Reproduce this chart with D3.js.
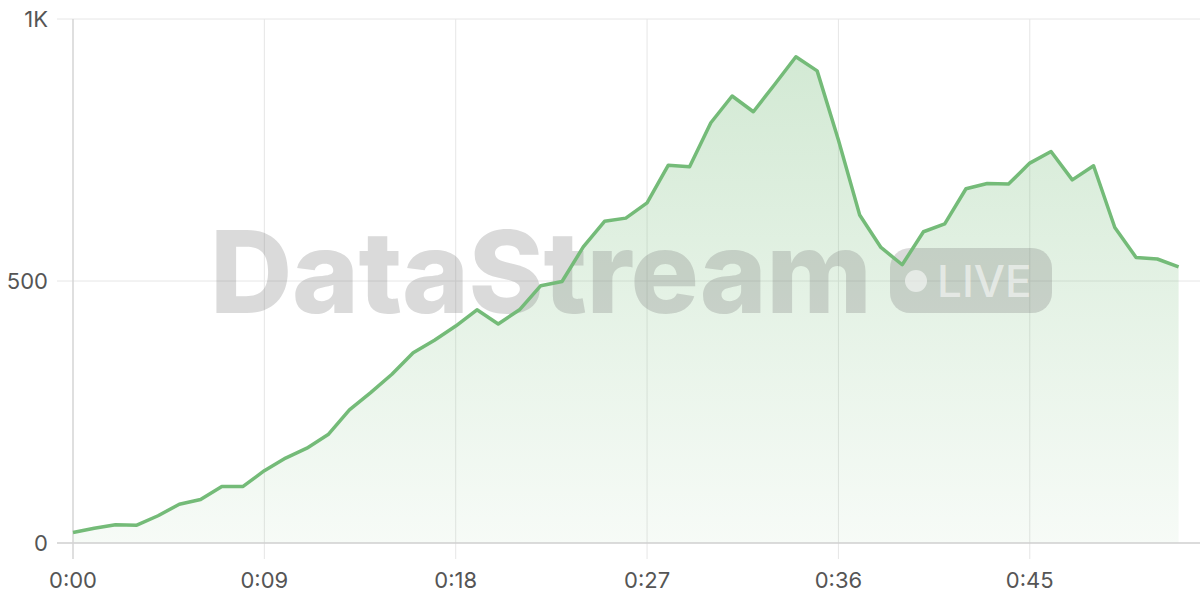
<!DOCTYPE html>
<html>
<head>
<meta charset="utf-8">
<script src="https://cdn.jsdelivr.net/npm/d3@7"></script>
<style>
  html, body { margin: 0; padding: 0; background: #fff; }
  svg { display: block; }
  text { font-family: Inter, "Noto Sans", sans-serif; }
</style>
</head>
<body>
<svg id="chart" width="1200" height="600"></svg>
<script>
// minutes since start
const minutes = d3.range(0, 53);
const viewers = [20, 28, 35, 34, 52, 74, 83, 108, 108, 138, 162, 181, 207, 254, 287, 322, 363, 387, 414, 445,
                 418, 445, 491, 499, 565, 614, 620, 649, 721, 718, 802, 853, 823, 875, 928, 901, 769, 626, 564, 531,
                 594, 609, 676, 686, 685, 725, 747, 693, 720, 602, 545, 542, 527];
const xTicks = [0, 9, 18, 27, 36, 45];
const yTicks = [0, 500, 1000];
const yTickLabels = ["0", "500", "1K"];

(function () {
const svg = d3.select("#chart");
const pl = 73, pr = 1178.6, pt = 19, pb = 543;

const x = d3.scaleLinear().domain([0, 52]).range([pl, pr]);
const y = d3.scaleLinear().domain([0, 1000]).range([pb, pt]);

const defs = svg.append("defs");
const grad = defs.append("linearGradient").attr("id", "areaGrad")
  .attr("gradientUnits", "userSpaceOnUse")
  .attr("x1", 0).attr("x2", 0).attr("y1", y(930)).attr("y2", pb);
grad.append("stop").attr("offset", "0%").attr("stop-color", "#74bb78").attr("stop-opacity", 0.32);
grad.append("stop").attr("offset", "100%").attr("stop-color", "#74bb78").attr("stop-opacity", 0.06);

// grid
const grid = svg.append("g");
grid.selectAll(".hg").data(yTicks.slice(1)).join("line")
  .attr("x1", 57).attr("x2", 1200)
  .attr("y1", d => y(d)).attr("y2", d => y(d))
  .attr("stroke", "#e6e6e6").attr("stroke-width", 1);
grid.selectAll(".vg").data(xTicks.slice(1)).join("line")
  .attr("x1", d => x(d)).attr("x2", d => x(d))
  .attr("y1", pt).attr("y2", 559)
  .attr("stroke", "#e6e6e6").attr("stroke-width", 1);

// area
const area = d3.area().x((d, i) => x(minutes[i])).y0(pb).y1(d => y(d));
svg.append("path").datum(viewers).attr("d", area).attr("fill", "url(#areaGrad)");

// watermark
const wm = svg.append("g");
wm.append("text").attr("x", 210).attr("y", 313)
  .attr("font-size", 114).attr("font-weight", 800)
  .attr("letter-spacing", -0.5)
  .attr("fill", "rgba(120,120,120,0.27)")
  .text("DataStream");
wm.append("rect").attr("x", 890).attr("y", 248).attr("width", 162).attr("height", 65).attr("rx", 20)
  .attr("fill", "rgba(120,120,120,0.27)");
wm.append("circle").attr("cx", 916).attr("cy", 281).attr("r", 11)
  .attr("fill", "rgba(255,255,255,0.55)");
wm.append("text").attr("x", 937).attr("y", 297).attr("font-size", 44).attr("font-weight", 500)
  .attr("fill", "rgba(255,255,255,0.55)").text("LIVE");

// axes lines
svg.append("line").attr("x1", 57).attr("x2", 1200).attr("y1", pb).attr("y2", pb)
  .attr("stroke", "#cfcfcf").attr("stroke-width", 1.5);
svg.append("line").attr("x1", pl).attr("x2", pl).attr("y1", pt).attr("y2", 559)
  .attr("stroke", "#d5d5d5").attr("stroke-width", 1.5);

// line
const line = d3.line().x((d, i) => x(minutes[i])).y(d => y(d));
svg.append("path").datum(viewers).attr("d", line)
  .attr("fill", "none").attr("stroke", "#74bb78").attr("stroke-width", 3.5)
  .attr("stroke-linejoin", "round");

// labels
const fmt = m => Math.floor(m / 60) + ":" + String(m % 60).padStart(2, "0");
svg.append("g").selectAll("text").data(xTicks).join("text")
  .attr("x", d => x(d)).attr("y", 588).attr("text-anchor", "middle")
  .attr("font-size", 22).attr("fill", "#555").text(d => fmt(d));
svg.append("g").selectAll("text").data(yTicks).join("text")
  .attr("x", 48).attr("y", d => y(d)).attr("dy", "0.35em").attr("text-anchor", "end")
  .attr("font-size", 22).attr("fill", "#555").text((d, i) => yTickLabels[i]);
})();
</script>
</body>
</html>
